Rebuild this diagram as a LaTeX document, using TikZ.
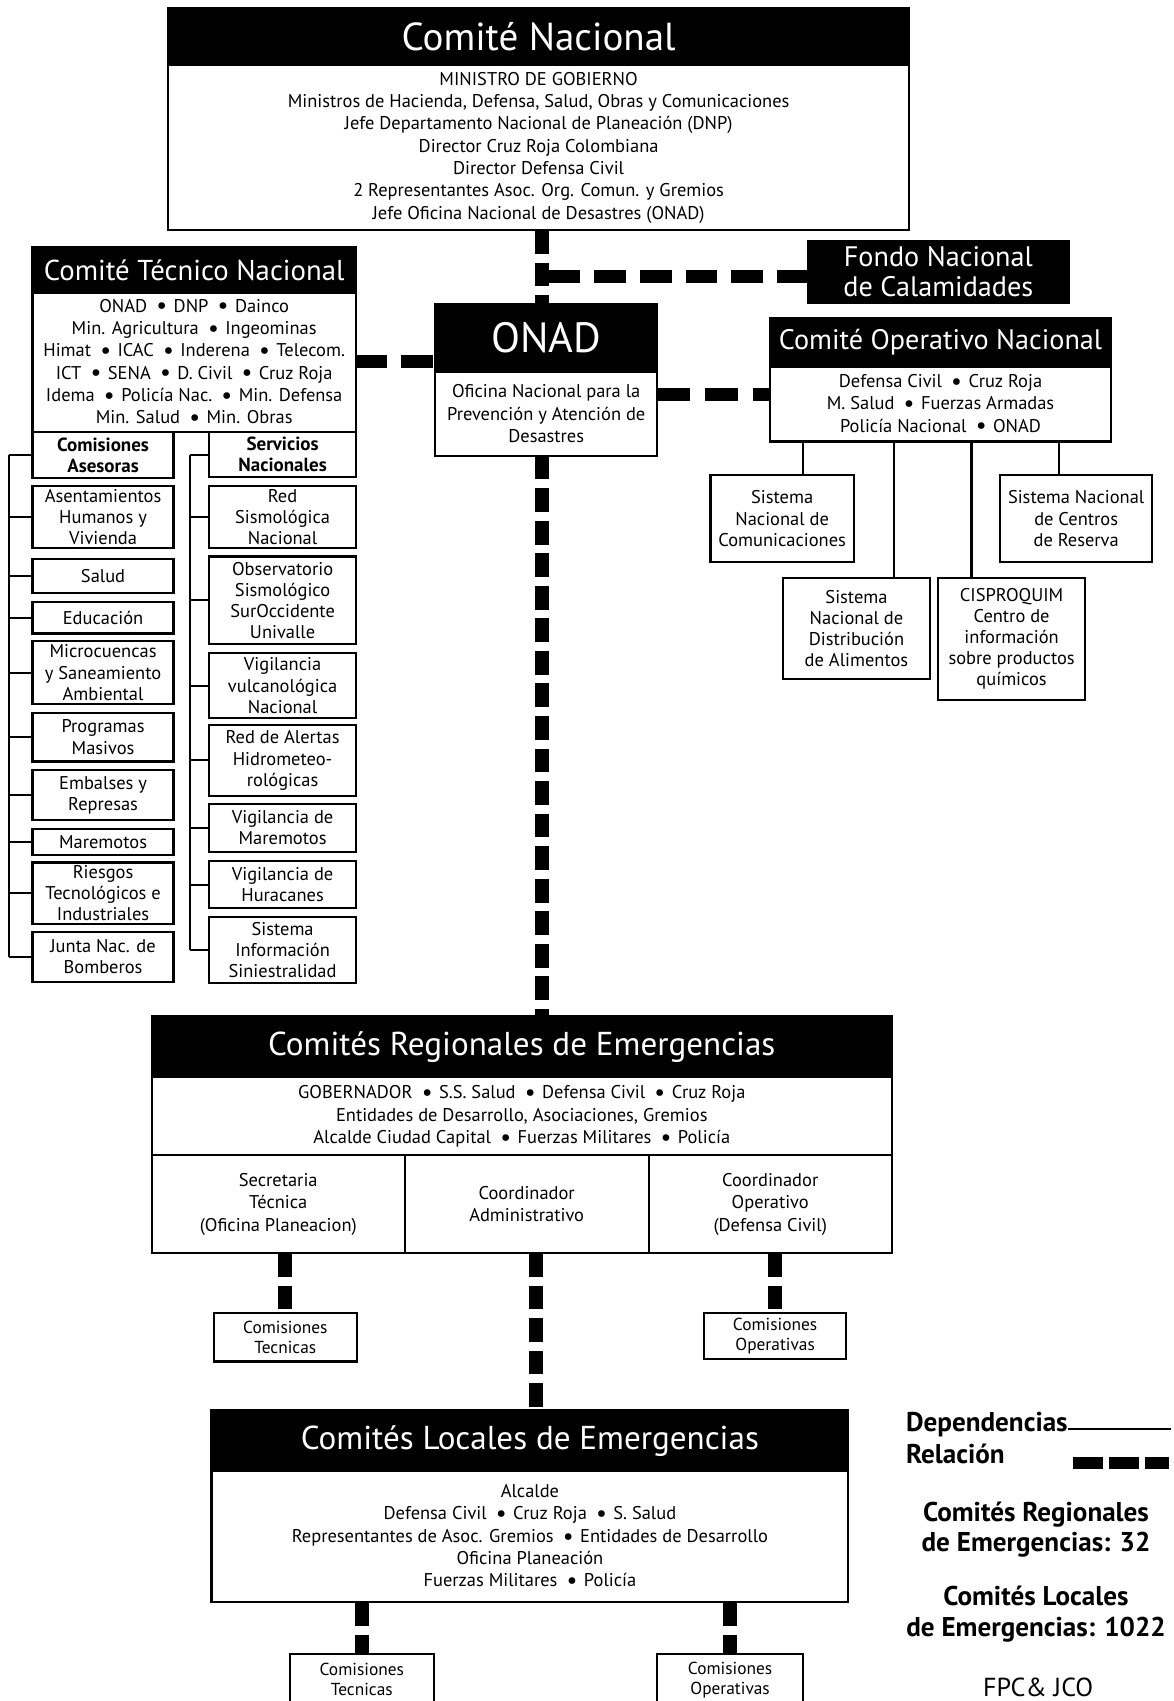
\documentclass[tikz,border=0pt]{standalone}
\usepackage{graphicx}
\usepackage{fontspec}
\setmainfont{PT Sans}
\newcommand\bu{\unskip\hspace{0.5em}\raisebox{-0.1em}{\scalebox{1.3}{•}}\hspace{0.35em}\ignorespaces}
\tikzset{
  box/.style={draw=black, line width=2pt, fill=white, inner sep=0pt, outer sep=0pt, align=center, font=\fontsize{17}{20.6}\selectfont},
  sbox/.style={box, font=\fontsize{17}{19.5}\selectfont},
  bbox/.style={box, font=\bfseries\fontsize{17.5}{19.5}\selectfont},
  tbox/.style={box, font=\fontsize{16}{18.5}\selectfont},
  hdr/.style={draw=black, line width=2pt, fill=black, text=white, inner sep=0pt, outer sep=0pt, align=center},
  dep/.style={line width=1.9pt},
  relv/.style={line width=13pt, dash pattern=on 22pt off 8pt},
  relh/.style={line width=12pt, dash pattern=on 29pt off 13pt},
  legend/.style={font=\bfseries\fontsize{25}{28}\selectfont, inner sep=0pt, align=center},
}
\newcommand\bx[7]{\node[#2, minimum width={(#5-#3)*1pt}, minimum height={(#6-#4)*1pt}] (#1) at ({(#3+#5)/2},{(#4+#6)/2}) {#7};}
\begin{document}
\begin{tikzpicture}[x=1pt,y=-1pt]
\useasboundingbox[fill=white] (0,0) rectangle (1082,1568);

% ---------- Comite Nacional
\bx{cnh}{hdr,font={\fontsize{36}{38}\selectfont}}{155}{7}{838}{60}{Comité Nacional}
\bx{cnb}{box}{155}{60}{838}{212}{MINISTRO DE GOBIERNO\\Ministros de Hacienda, Defensa, Salud, Obras y Comunicaciones\\Jefe Departamento Nacional de Planeación (DNP)\\Director Cruz Roja Colombiana\\Director Defensa Civil\\2 Representantes Asoc. Org. Comun. y Gremios\\Jefe Oficina Nacional de Desastres (ONAD)}

% ---------- Fondo
\bx{fondo}{hdr,font={\fontsize{26}{28}\selectfont}}{745}{222}{985}{279}{Fondo Nacional\\de Calamidades}

% ---------- Comite Tecnico Nacional
\bx{ctnh}{hdr,font={\fontsize{26.5}{28}\selectfont}}{30}{228}{328}{270}{Comité Técnico Nacional}
\bx{ctnb}{box}{30}{270}{328}{398}{ONAD \bu DNP \bu Dainco\\Min. Agricultura \bu Ingeominas\\Himat \bu ICAC \bu Inderena \bu Telecom.\\ICT \bu SENA \bu D. Civil \bu Cruz Roja\\Idema \bu Policía Nac. \bu Min. Defensa\\Min. Salud \bu Min. Obras}

\bx{casr}{bbox}{30}{398}{160}{441}{Comisiones\\Asesoras}
\bx{a1}{sbox}{30}{448}{160}{505}{Asentamientos\\Humanos y\\Vivienda}
\bx{a2}{sbox}{30}{515}{160}{547}{Salud}
\bx{a3}{sbox}{30}{555}{160}{584}{Educación}
\bx{a4}{sbox}{30}{591}{160}{649}{Microcuencas\\y Saneamiento\\Ambiental}
\bx{a5}{sbox}{30}{657}{160}{702}{Programas\\Masivos}
\bx{a6}{sbox}{30}{710}{160}{756}{Embalses y\\Represas}
\bx{a7}{sbox}{30}{764}{160}{788}{Maremotos}
\bx{a8}{sbox}{30}{795}{160}{852}{Riesgos\\Tecnológicos e\\Industriales}
\bx{a9}{sbox}{30}{859}{160}{905}{Junta Nac. de\\Bomberos}

\bx{snac}{bbox}{193}{398}{328}{440}{Servicios\\Nacionales}
\bx{s1}{sbox}{193}{448}{328}{505}{Red\\Sismológica\\Nacional}
\bx{s2}{sbox}{193}{513}{328}{594}{Observatorio\\Sismológico\\SurOccidente\\Univalle}
\bx{s3}{sbox}{193}{602}{328}{662}{Vigilancia\\vulcanológica\\Nacional}
\bx{s4}{sbox}{193}{668}{328}{734}{Red de Alertas\\Hidrometeo-\\rológicas}
\bx{s5}{sbox}{193}{741}{328}{785}{Vigilancia de\\Maremotos}
\bx{s6}{sbox}{193}{794}{328}{837}{Vigilancia de\\Huracanes}
\bx{s7}{sbox}{193}{845}{328}{906}{Sistema\\Información\\Siniestralidad}

\coordinate (lbus) at (8,0);
\coordinate (rbus) at (175,0);
\draw[dep] (lbus |- casr.west) -- (lbus |- a9.west);
\foreach \n in {casr,a1,a2,a3,a4,a5,a6,a7,a8,a9} \draw[dep] (lbus |- \n.west) -- (\n.west);
\draw[dep] (rbus |- snac.west) -- (rbus |- s7.west);
\foreach \n in {snac,s1,s2,s3,s4,s5,s6,s7} \draw[dep] (rbus |- \n.west) -- (\n.west);

% ---------- ONAD
\bx{onadh}{hdr,font={\fontsize{39}{40}\selectfont}}{401}{280}{606}{343}{ONAD}
\bx{onadb}{box}{401}{343}{606}{420}{Oficina Nacional para la\\Prevención y Atención de\\Desastres}

% ---------- Comite Operativo Nacional
\bx{conh}{hdr,font={\fontsize{26}{28}\selectfont}}{710}{293}{1024}{338}{Comité Operativo Nacional}
\bx{conb}{box}{710}{338}{1024}{407}{Defensa Civil \bu Cruz Roja\\M. Salud \bu Fuerzas Armadas\\Policía Nacional \bu ONAD}

\bx{scom}{sbox}{655}{438}{787}{518}{Sistema\\Nacional de\\Comunicaciones}
\bx{sdis}{sbox}{722}{533}{857}{626}{Sistema\\Nacional de\\Distribución\\de Alimentos}
\bx{cisp}{sbox}{865}{533}{1000}{645}{CISPROQUIM\\Centro de\\información\\sobre productos\\químicos}
\bx{sres}{sbox}{922}{438}{1062}{518}{Sistema Nacional\\de Centros\\de Reserva}

\draw[dep] ([xshift=19pt]scom.north) -- ([xshift=19pt]scom.north |- conb.south);
\draw[dep] ([xshift=35pt]sdis.north) -- ([xshift=35pt]sdis.north |- conb.south);
\draw[dep] ([xshift=-37pt]cisp.north) -- ([xshift=-37pt]cisp.north |- conb.south);
\draw[dep] ([xshift=-16pt]sres.north) -- ([xshift=-16pt]sres.north |- conb.south);

% ---------- Comites Regionales
\bx{regh}{hdr,font={\fontsize{30.5}{32}\selectfont}}{140}{937}{822}{993}{Comités Regionales de Emergencias}
\bx{regb}{box}{140}{993}{822}{1065}{GOBERNADOR \bu S.S. Salud \bu Defensa Civil \bu Cruz Roja\\Entidades de Desarrollo, Asociaciones, Gremios\\Alcalde Ciudad Capital \bu Fuerzas Militares \bu Policía}
\bx{c1}{box}{140}{1065}{373}{1155}{Secretaria\\Técnica\\(Oficina Planeacion)}
\bx{c2}{box}{373}{1065}{598}{1155}{Coordinador\\Administrativo}
\bx{c3}{box}{598}{1065}{822}{1155}{Coordinador\\Operativo\\(Defensa Civil)}
\bx{rct}{tbox}{197}{1210}{329}{1255}{Comisiones\\Tecnicas}
\bx{rco}{tbox}{649}{1210}{780}{1253}{Comisiones\\Operativas}

% ---------- Comites Locales
\bx{loch}{hdr,font={\fontsize{30.5}{32}\selectfont}}{195}{1300}{782}{1356}{Comités Locales de Emergencias}
\bx{locb}{box}{195}{1356}{782}{1477}{Alcalde\\Defensa Civil \bu Cruz Roja \bu S. Salud\\Representantes de Asoc. Gremios \bu Entidades de Desarrollo\\Oficina Planeación\\Fuerzas Militares \bu Policía}
\bx{lct}{tbox}{267}{1525}{400}{1572}{Comisiones\\Tecnicas}
\bx{lco}{tbox}{606}{1525}{740}{1572}{Comisiones\\Operativas}

% ---------- relation (dashed) connectors
\coordinate (sp) at (500,0);
\coordinate (sph) at (506,255);
\coordinate (sp2) at (494,0);
\coordinate (l1) at (0,333);
\coordinate (l2) at (0,364);
\draw[relv] (sp |- cnb.south) -- (sp |- onadh.north);
\draw[relv] (sp |- onadb.south) -- (sp |- regh.north);
\draw[relh] (sph) -- (fondo.west |- sph);
\draw[relh] (ctnb.east |- l1) -- (onadh.west |- l1);
\draw[relh, dash pattern=on 30pt off 14pt] (onadb.east |- l2) -- (conb.west |- l2);
\draw[relv] (rct.north |- c1.south) -- (rct.north);
\draw[relv] (rco.north |- c3.south) -- (rco.north);
\draw[relv] (sp2 |- c2.south) -- (sp2 |- loch.north);
\draw[relv] (lct.north |- locb.south) -- (lct.north);
\draw[relv] (lco.north |- locb.south) -- (lco.north);

% ---------- legend
\node[legend, anchor=base west] (ldep) at (835,1320) {Dependencias};
\coordinate (ldepend) at (1079,1317);
\draw[dep] (ldep.base east |- ldepend) -- (ldepend);
\node[legend, anchor=base west] (lrel) at (835,1349) {Relación};
\coordinate (lrela) at (989,1349);
\coordinate (lrelb) at (1078,1349);
\draw[line width=11pt, dash pattern=on 28pt off 5pt] (lrela) -- (lrelb);
\node[legend] (lreg) at (955,1410) {Comités Regionales\\de Emergencias: 32};
\node[legend] (lloc) at (955,1488) {Comités Locales\\de Emergencias: 1022};
\node[font={\fontsize{24}{26}\selectfont}, inner sep=0pt] (fpc) at (957,1555) {FPC\& JCO};
\end{tikzpicture}
\end{document}
